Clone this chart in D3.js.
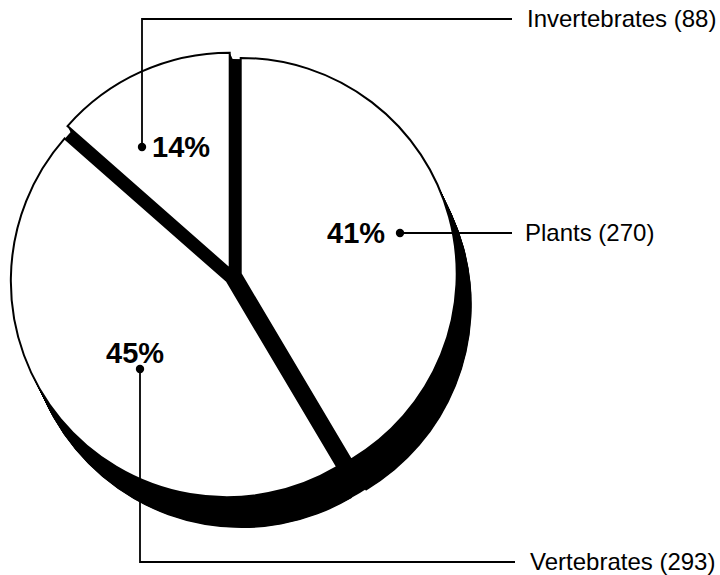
<!DOCTYPE html>
<html>
<head>
<meta charset="utf-8">
<script src="https://d3js.org/d3.v7.min.js"></script>
<style>
  body { margin: 0; background: #fff; }
  svg { display: block; }
</style>
</head>
<body>
<svg id="chart"></svg>
<script>
/* data */
var categories = ['Plants', 'Vertebrates', 'Invertebrates'];
var counts = [270, 293, 88];

/* layout */
var svgPar = { svgWidth: 720, svgHeight: 575, svgColor: '#fff' };
var pieCx = 233, pieCy = 276, pieR = 216;
var explode = 8;                 // slices pushed out along their middle angle
var depth = { dx: 15, dy: 31 };  // 3d extrusion, down and right
var labelFont = '"Liberation Sans", Arial, Helvetica, sans-serif';

// hand-placed leader lines: dot position, elbow path, where the name sits
var leaders = [
    { dot: [400, 233], path: [[400, 233], [512, 233]], text: [525, 241] },
    { dot: [140, 369], path: [[140, 369], [140, 562], [515, 562]], text: [530, 570] },
    { dot: [142, 147], path: [[142, 147], [142, 19], [512, 19]], text: [527, 27] }
];
var pctPos = [[327, 243], [106, 363], [152, 157]];

var svg = d3.select('#chart')
    .attr('width', svgPar.svgWidth)
    .attr('height', svgPar.svgHeight)
    .style('background', svgPar.svgColor);

var total = d3.sum(counts);
var slices = d3.pie().sort(null).value(d => d.value)(
    categories.map((c, i) => ({ name: c, value: counts[i] }))
);

var arc = d3.arc().innerRadius(0).outerRadius(pieR);

function offsetOf(d){
    var mid = (d.startAngle + d.endAngle) / 2;
    return [explode * Math.sin(mid), -explode * Math.cos(mid)];
}

var pie = svg.append('g').attr('transform', `translate(${pieCx},${pieCy})`);
var steps = d3.range(0, 1.0001, 1 / 48);

/* black body behind the gaps, extruded too */
pie.append('g')
    .selectAll('circle')
    .data(steps)
    .enter()
    .append('circle')
    .attr('cx', t => t * depth.dx)
    .attr('cy', t => t * depth.dy)
    .attr('r', pieR + 1)
    .attr('fill', '#000');

/* extrusion: stacked copies of every slice */
slices.forEach(function(d){
    var o = offsetOf(d);
    pie.append('g')
        .selectAll('path')
        .data(steps)
        .enter()
        .append('path')
        .attr('d', arc(d))
        .attr('transform', t => `translate(${o[0] + t * depth.dx},${o[1] + t * depth.dy})`)
        .attr('fill', '#000');
});

/* top faces */
pie.selectAll('path.face')
    .data(slices)
    .enter()
    .append('path')
    .attr('class', 'face')
    .attr('d', arc)
    .attr('transform', d => `translate(${offsetOf(d)})`)
    .attr('fill', '#fff')
    .attr('stroke', '#000')
    .attr('stroke-width', 2)
    .attr('stroke-linejoin', 'miter');

/* leaders */
var line = d3.line();
svg.append('g')
    .selectAll('path')
    .data(leaders)
    .enter()
    .append('path')
    .attr('d', d => line(d.path))
    .attr('fill', 'none')
    .attr('stroke', '#000')
    .attr('stroke-width', 1.8);

svg.append('g')
    .selectAll('circle')
    .data(leaders)
    .enter()
    .append('circle')
    .attr('cx', d => d.dot[0])
    .attr('cy', d => d.dot[1])
    .attr('r', 4.2)
    .attr('fill', '#000');

/* percent labels */
svg.append('g')
    .selectAll('text')
    .data(slices)
    .enter()
    .append('text')
    .attr('x', (d, i) => pctPos[i][0])
    .attr('y', (d, i) => pctPos[i][1])
    .attr('font-family', labelFont)
    .attr('font-weight', 'bold')
    .attr('font-size', '29px')
    .attr('fill', '#000')
    .text(d => Math.round(d.value / total * 100) + '%');

/* category names */
svg.append('g')
    .selectAll('text')
    .data(slices)
    .enter()
    .append('text')
    .attr('x', (d, i) => leaders[i].text[0])
    .attr('y', (d, i) => leaders[i].text[1])
    .attr('font-family', labelFont)
    .attr('font-size', '24px')
    .attr('fill', '#000')
    .text(d => `${d.data.name} (${d.data.value})`);
</script>
</body>
</html>
